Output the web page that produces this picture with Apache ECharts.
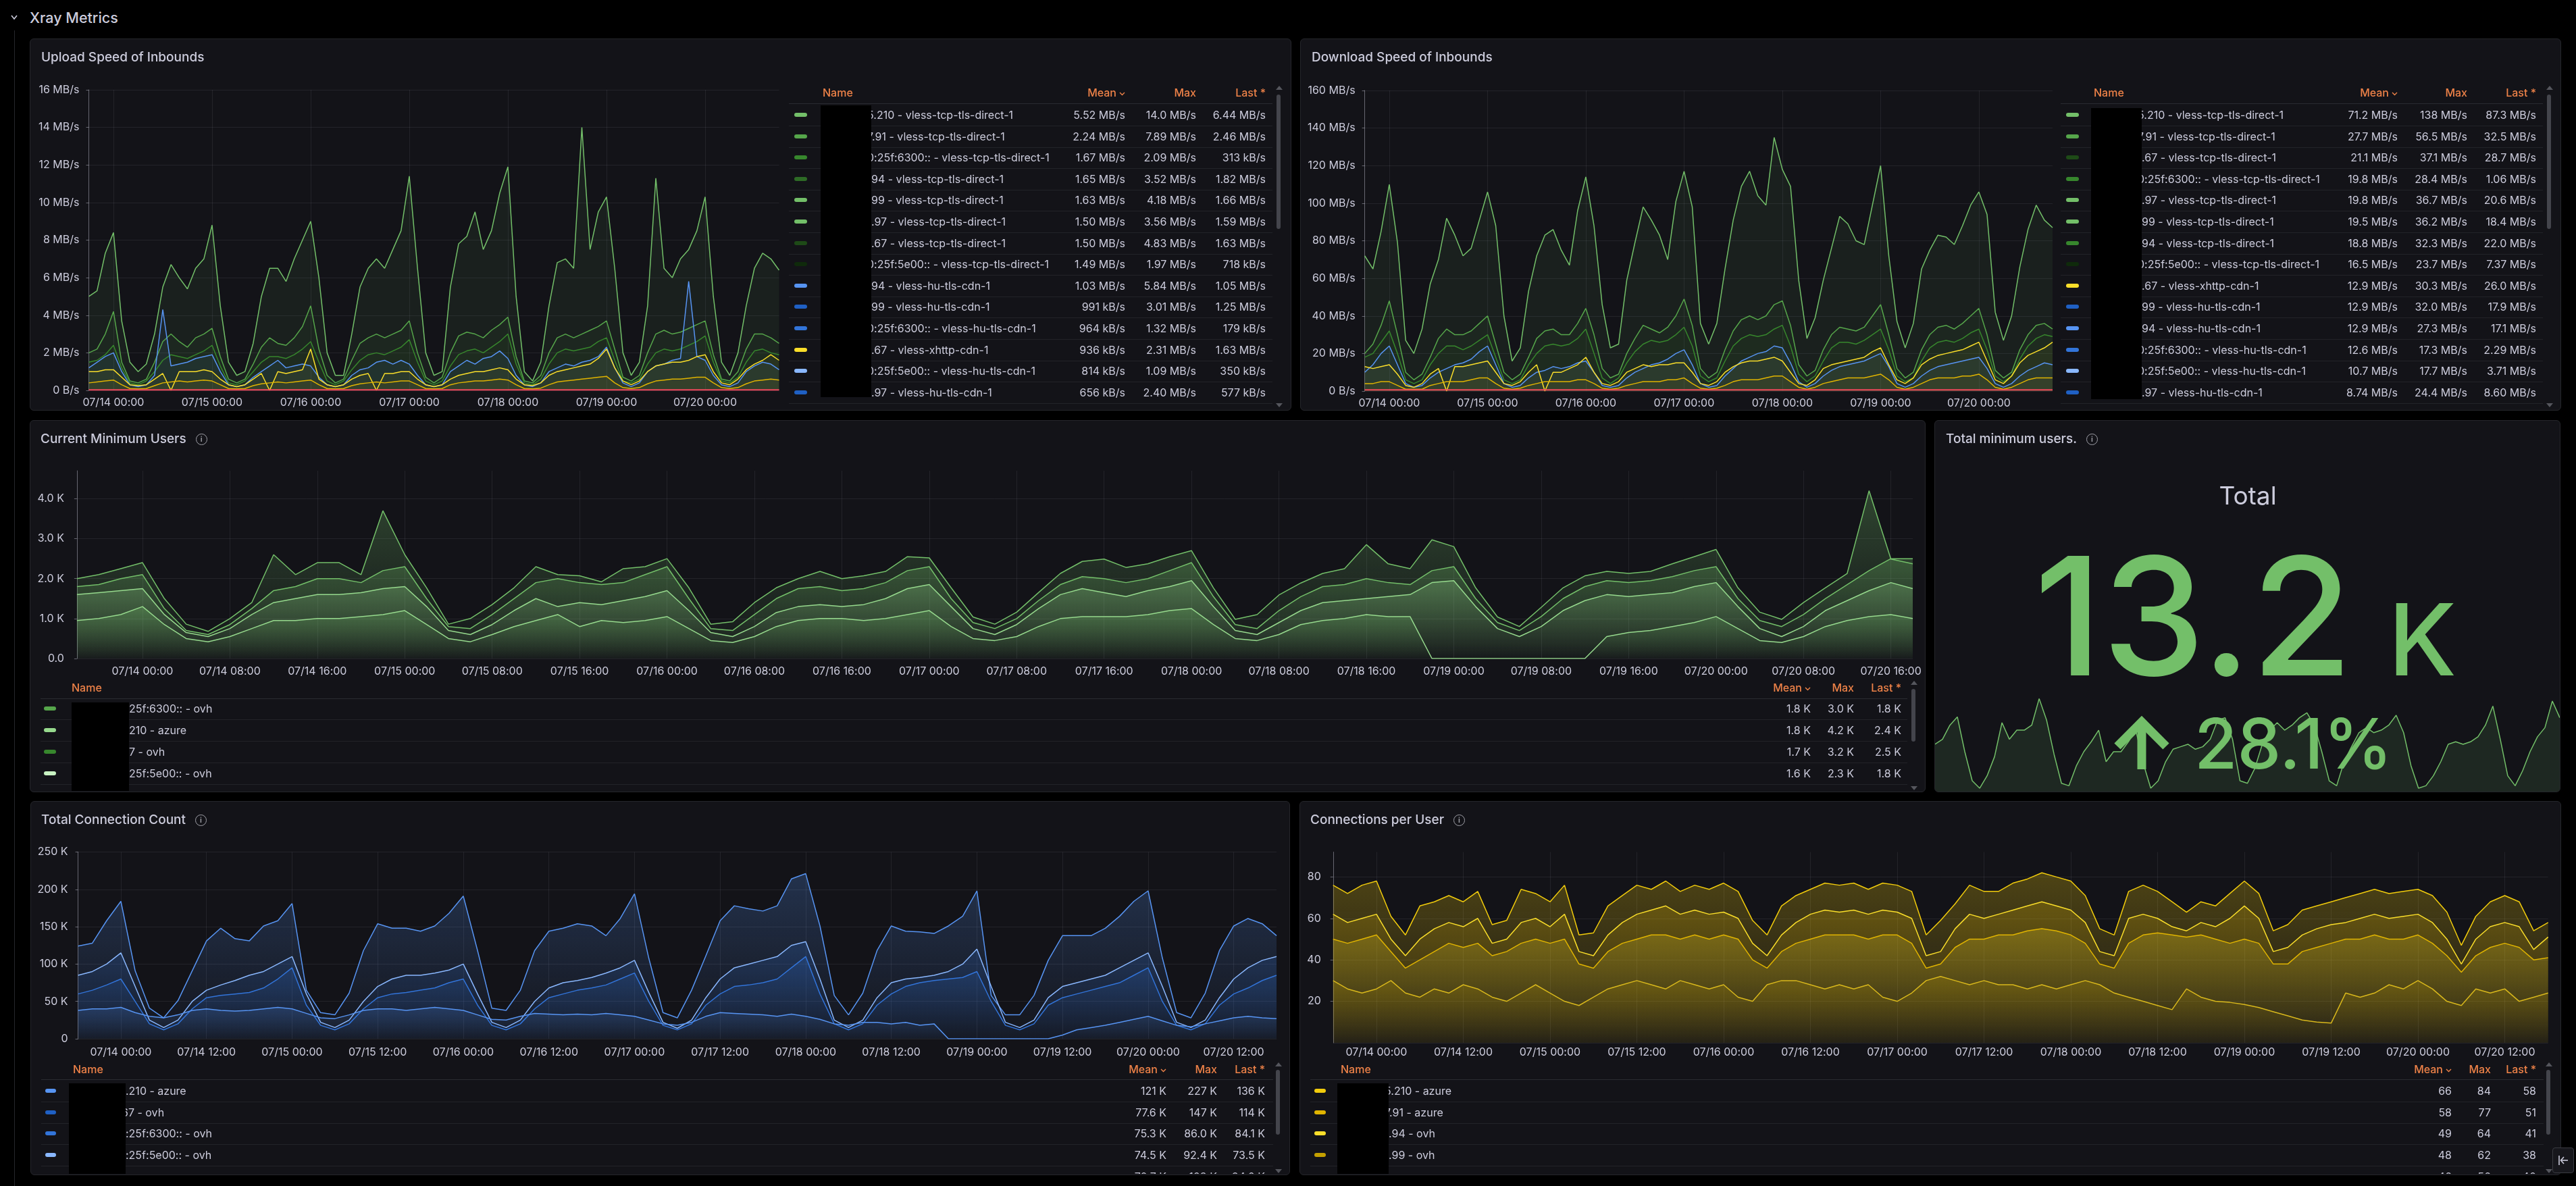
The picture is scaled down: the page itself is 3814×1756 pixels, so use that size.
<!DOCTYPE html>
<html>
<head>
<meta charset="utf-8">
<title>Xray Metrics</title>
<script src="https://cdn.jsdelivr.net/npm/echarts@6.0.0/dist/echarts.min.js"></script>
<style>
html,body{margin:0;padding:0;background:#000;}
body{position:relative;width:3814px;height:1756px;overflow:hidden;font-family:Inter,"Noto Sans",sans-serif;color:#ccccdc;font-feature-settings:"calt" 0,"liga" 0;font-variant-ligatures:none;}
.panel{position:absolute;box-sizing:border-box;background:#131318;border:1px solid #25262b;border-radius:6px;overflow:hidden;}
.ptitle{position:absolute;left:16px;top:14px;height:26px;line-height:26px;font-size:19px;font-weight:500;color:#ccccdc;white-space:nowrap;display:flex;align-items:center;z-index:3}
.info{display:inline-block;box-sizing:border-box;width:17px;height:17px;border:1.5px solid #a0a1a8;border-radius:50%;margin-left:14px;font-size:11px;line-height:14px;text-align:center;color:#a0a1a8;font-weight:600;}
.chart{position:absolute;left:0;top:0;z-index:1}
.lg{position:absolute;left:0;top:0;overflow:hidden;z-index:2}
.t{position:absolute;white-space:nowrap;font-size:16px;height:24px;line-height:24px;color:#ccccdc}
.h{color:#EE8248;font-weight:500}
</style>
</head>
<body>
<svg style="position:absolute;left:14px;top:20px" width="14" height="12"><polyline points="3,3 7,8 11,3" fill="none" stroke="#ccccdc" stroke-width="1.6"/></svg>
<div style="position:absolute;left:44px;top:13px;height:26px;line-height:26px;font-size:21.5px;font-weight:500;color:#ccccdc">Xray Metrics</div>
<div style="position:absolute;left:21px;top:45px;width:1px;height:1711px;background:#26272c"></div>

<div class="panel" id="pA" style="left:44px;top:57px;width:1868px;height:551px"><div class="ptitle">Upload Speed of Inbounds</div><div class="chart" id="cA"></div></div>
<div class="panel" id="pB" style="left:1925px;top:57px;width:1867px;height:551px"><div class="ptitle">Download Speed of Inbounds</div><div class="chart" id="cB"></div></div>
<div class="panel" id="pC" style="left:44px;top:622px;width:2807px;height:551px"><div class="ptitle" style="left:15px">Current Minimum Users<span class="info">i</span></div><div class="chart" id="cC"></div></div>
<div class="panel" id="pD" style="left:2864px;top:622px;width:927px;height:551px"><div class="ptitle">Total minimum users.<span class="info">i</span></div><div class="chart" id="cD"></div></div>
<div class="panel" id="pE" style="left:45px;top:1186px;width:1865px;height:554px"><div class="ptitle" style="left:15px">Total Connection Count<span class="info">i</span></div><div class="chart" id="cE"></div></div>
<div class="panel" id="pF" style="left:1924px;top:1186px;width:1868px;height:554px"><div class="ptitle" style="left:15px">Connections per User<span class="info">i</span></div><div class="chart" id="cF"></div></div>
<div style="position:absolute;left:3779px;top:1699px;width:32px;height:38px;box-sizing:border-box;border:1px solid #3a3b41;border-radius:4px;background:#17171c;z-index:5">
<svg width="30" height="36"><line x1="9" y1="11" x2="9" y2="25" stroke="#ccccdc" stroke-width="1.6"/><line x1="12" y1="18" x2="22" y2="18" stroke="#ccccdc" stroke-width="1.6"/><polyline points="16,13 11.5,18 16,23" fill="none" stroke="#ccccdc" stroke-width="1.6"/></svg>
</div>

<script>
// ---------- time grid (2 h steps, 07/13 18:00 -> 07/20 18:00) ----------
const START = new Date(2025, 6, 13, 18, 0, 0);
const STEP_H = 2, N = 85;
const pad = n => String(n).padStart(2, '0');
const times = [];
for (let i = 0; i < N; i++) {
  const d = new Date(START.getTime() + i * STEP_H * 3600e3);
  times.push(pad(d.getMonth() + 1) + '/' + pad(d.getDate()) + ' ' + pad(d.getHours()) + ':00');
}

// ---------- Upload speed (MB/s) ----------
const upS1 = [5.0,5.3,7.3,
 8.4,3.7,1.5,1.0,1.4,3.0,5.5,6.7,6.0,5.4,6.5,7.0,
 8.8,4.5,1.5,0.8,1.0,2.5,5.0,6.5,6.5,5.8,7.0,8.0,
 9.0,6.0,2.0,0.8,0.8,3.0,5.5,6.5,7.0,6.5,7.5,8.5,
 11.4,6.5,2.0,0.8,1.0,5.5,7.8,8.2,9.5,7.5,8.5,10.5,
 11.9,5.0,1.0,0.5,1.5,4.5,6.8,7.0,6.5,14.0,7.5,9.5,
 10.3,6.5,2.0,0.8,1.5,4.5,11.3,6.5,6.0,7.0,7.5,8.5,
 10.3,5.0,1.5,0.8,2.0,4.5,6.5,7.3,7.0,6.4];
const upS2 = [2.0,2.2,3.0,
 4.2,1.5,0.5,0.4,0.6,1.5,2.6,3.0,2.6,2.3,2.8,3.0,
 3.3,1.8,0.6,0.4,0.6,1.4,2.3,2.8,2.5,2.4,2.8,3.4,
 4.5,2.2,0.8,0.4,0.6,1.6,2.5,2.8,3.0,2.8,3.0,3.2,
 3.7,2.0,0.7,0.4,0.7,2.0,2.9,3.1,3.0,2.8,3.2,3.5,
 3.9,1.8,0.5,0.4,0.8,2.0,2.8,3.0,2.8,3.0,3.2,3.4,
 3.7,2.2,0.7,0.5,0.8,2.0,3.0,3.2,3.0,3.1,3.3,3.5,
 3.7,1.9,0.6,0.5,1.0,2.2,3.0,3.0,2.8,2.5];
const upS3 = [1.5,1.6,1.9,
 2.4,1.2,0.4,0.3,0.5,1.0,1.6,1.9,1.8,1.7,1.9,2.1,
 2.4,1.3,0.4,0.3,0.5,1.0,1.5,1.8,1.8,1.7,1.9,2.2,
 2.6,1.5,0.5,0.3,0.5,1.1,1.6,1.9,2.0,1.9,2.1,2.3,
 2.7,1.5,0.5,0.3,0.5,1.3,1.9,2.1,2.2,2.0,2.3,2.6,
 3.0,1.4,0.4,0.3,0.6,1.4,2.0,2.2,2.1,2.2,2.3,2.6,
 2.8,1.6,0.5,0.4,0.6,1.4,2.0,2.2,2.1,2.2,2.4,2.6,
 2.9,1.5,0.5,0.4,0.7,1.5,2.1,2.2,2.0,1.9];
const upS4 = [1.2,1.5,1.8,
 2.0,1.0,0.3,0.2,0.3,0.8,4.3,1.3,1.4,1.5,1.7,1.8,
 1.9,1.0,0.3,0.2,0.3,0.7,1.0,1.3,1.6,1.2,1.3,1.4,
 1.3,0.7,0.3,0.2,0.3,0.8,1.1,1.2,1.5,1.6,1.4,1.6,
 1.4,0.8,0.3,0.2,0.3,1.0,1.3,1.6,1.4,1.7,1.8,2.1,
 1.7,0.8,0.3,0.2,0.4,1.0,1.2,1.4,1.3,1.5,1.6,1.8,
 2.3,1.2,0.4,0.2,0.4,1.0,1.3,1.4,1.6,1.7,5.8,1.8,
 1.6,0.8,0.3,0.2,0.4,1.0,1.3,1.5,1.4,1.1];
const upS5 = [1.0,1.0,1.1,
 1.1,0.7,0.3,0.25,0.3,0.6,0.9,0.0,1.0,1.0,1.0,1.1,
 1.0,0.6,0.3,0.2,0.3,0.6,0.9,0.0,1.0,0.9,1.0,1.1,
 2.2,0.6,0.3,0.2,0.3,0.6,0.8,0.9,0.0,0.9,0.9,1.0,
 1.0,0.6,0.3,0.2,0.3,0.6,0.8,0.9,1.0,1.0,1.1,1.2,
 1.1,0.6,0.3,0.25,0.4,0.8,1.0,1.1,1.2,1.3,1.4,1.7,
 2.2,1.2,0.5,0.3,0.5,1.0,1.3,1.4,1.5,1.5,1.6,1.8,
 1.9,1.0,0.4,0.3,0.6,1.1,1.4,1.6,1.9,1.6];
const upS6 = [0.4,0.45,0.5,
 0.55,0.3,0.1,0.08,0.1,0.25,0.4,0.45,0.5,0.45,0.5,0.55,
 0.5,0.3,0.1,0.08,0.1,0.25,0.35,0.4,0.45,0.4,0.45,0.5,
 0.55,0.3,0.1,0.08,0.1,0.25,0.35,0.4,0.45,0.4,0.45,0.5,
 0.5,0.3,0.1,0.08,0.1,0.3,0.4,0.45,0.5,0.5,0.55,0.6,
 0.55,0.3,0.1,0.08,0.12,0.3,0.45,0.5,0.55,0.6,0.65,0.7,
 0.75,0.4,0.15,0.1,0.15,0.35,0.5,0.55,0.6,0.6,0.65,0.7,
 0.7,0.4,0.15,0.1,0.15,0.35,0.5,0.55,0.6,0.55];
const upFloor = [[0, 0.03], [84, 0.03]];

// ---------- Download speed (MB/s) ----------
const dnS1 = [72,65,85,
 110,79,27,20,33,57,70,92,83,72,76,91,
 106,88,40,16,23,53,72,83,86,75,67,96,
 114,88,46,23,25,59,79,98,91,83,70,101,
 117,98,36,25,36,65,91,109,117,104,99,135,
 118,109,59,28,39,59,76,93,89,80,78,99,
 120,72,37,23,36,65,75,83,82,78,88,99,
 106,94,42,27,40,66,86,99,91,87];
const dnS2 = [20,25,35,
 48,30,10,6,9,18,28,33,30,30,32,36,
 40,25,10,6,9,18,28,32,33,30,30,36,
 44,30,12,7,9,20,28,35,33,31,34,40,
 49,35,12,7,10,22,32,38,40,38,40,46,
 48,35,14,8,11,22,30,34,33,32,34,40,
 46,30,12,7,10,22,30,34,35,33,36,40,
 44,30,11,7,10,22,30,35,36,33];
const dnS3 = [18,20,26,
 32,20,6,4,6,14,20,24,24,22,24,27,
 30,18,6,4,6,14,20,24,25,24,25,28,
 33,20,7,4,7,15,21,25,27,26,27,30,
 34,24,8,5,7,16,24,28,30,29,30,33,
 35,24,9,5,8,16,23,26,26,25,27,30,
 33,22,8,5,7,16,23,26,27,26,28,31,
 33,22,8,5,8,17,24,28,30,29];
const dnS4 = [10,14,20,
 24,14,4,2,3,7,10,12,14,15,17,21,
 24,14,4,2,3,7,10,11,13,12,13,15,
 16,10,3,2,3,7,10,12,14,15,17,20,
 22,14,4,2,3,8,12,16,18,20,21,24,
 23,15,5,2,4,8,11,13,14,15,16,18,
 20,13,4,2,4,8,11,13,14,15,16,17,
 18,12,4,2,4,8,11,13,15,14];
const dnS5 = [13,12,13,
 14,9,3,2,4,9,12,0,13,13,14,15,
 16,10,4,3,5,10,14,0,10,10,12,14,
 18,10,4,3,5,10,12,14,13,14,14,15,
 15,10,4,3,5,10,13,15,16,16,17,18,
 16,10,4,3,6,12,14,15,16,17,18,21,
 23,14,6,4,7,14,17,19,20,21,22,24,
 26,16,6,4,8,15,19,21,23,26];
const dnS6 = [4,4,5,
 5,3,1,1,1,3,4,5,5,5,6,7,
 7,4,1.5,1,1.5,3,4,5,5,5,5,6,
 6,4,1.5,1,1.5,3,4,5,5,5,6,6,
 7,4,1.5,1,1.5,3,5,6,6,6,7,8,
 8,5,2,1,2,4,5,6,7,7,7,8,
 9,6,2,1,2,4,6,7,7,7,8,8,
 9,6,2,1,2,4,6,7,7,7];
const dnFloor = [[0, 0.6], [84, 0.6]];

// ---------- Current minimum users (K) ----------
const usU1 = [2.0,2.1,2.25,
 2.4,1.5,0.86,0.68,1.0,1.4,2.6,2.1,2.4,2.4,2.1,3.7,
 2.6,1.77,0.86,1.0,1.35,1.77,2.3,2.1,2.07,1.92,2.25,2.3,
 2.5,1.77,0.86,0.92,1.4,1.77,2.0,2.18,2.0,2.07,2.18,2.55,
 2.52,1.77,1.04,0.86,1.16,1.65,2.13,2.43,2.49,2.28,2.37,2.55,
 2.7,1.77,0.98,1.1,1.59,1.89,2.13,2.25,2.85,2.37,2.25,2.97,
 2.8,1.77,1.04,0.8,1.28,1.77,2.07,2.18,2.13,2.18,2.37,2.55,
 2.73,1.77,1.16,0.98,1.4,1.77,2.13,4.2,2.49,2.37];
const usU4 = [1.8,1.85,2.0,
 2.1,1.25,0.7,0.6,0.85,1.25,1.7,1.8,2.0,2.0,1.9,2.2,
 2.3,1.5,0.8,0.75,1.1,1.5,1.9,2.0,1.9,1.85,1.9,2.1,
 2.3,1.5,0.75,0.7,1.1,1.5,1.75,1.8,1.7,1.75,1.9,2.2,
 2.3,1.5,0.9,0.75,1.0,1.45,1.85,2.05,2.0,1.9,2.0,2.2,
 2.4,1.55,0.85,0.75,1.2,1.55,1.8,1.85,2.0,1.9,1.85,2.2,
 2.3,1.5,0.9,0.7,1.05,1.5,1.8,1.95,1.9,1.95,2.05,2.2,
 2.3,1.5,0.95,0.8,1.1,1.5,1.85,2.2,2.5,2.5];
const usU2 = [1.6,1.65,1.7,
 1.75,1.1,0.65,0.55,0.75,1.1,1.4,1.5,1.6,1.6,1.65,1.75,
 1.8,1.3,0.7,0.6,0.85,1.2,1.5,1.3,1.4,1.35,1.45,1.55,
 1.7,1.2,0.65,0.55,0.8,1.15,1.3,1.35,1.3,1.35,1.5,1.75,
 1.85,1.3,0.75,0.6,0.85,1.25,1.6,1.75,1.65,1.55,1.7,1.8,
 1.95,1.3,0.7,0.6,0.9,1.2,1.4,1.45,1.5,1.55,1.6,1.9,
 1.95,1.3,0.75,0.55,0.8,1.2,1.45,1.6,1.55,1.6,1.65,1.8,
 1.9,1.3,0.75,0.55,0.8,1.2,1.45,1.7,1.9,1.75];
const usU3 = [0.95,1.0,1.1,
 1.3,0.85,0.5,0.42,0.55,0.75,0.95,0.95,1.0,1.0,1.05,1.1,
 1.2,0.85,0.5,0.42,0.6,0.8,0.95,1.1,0.8,0.95,0.9,0.95,
 1.05,0.75,0.45,0.4,0.55,0.8,0.95,1.0,1.0,0.95,1.0,1.1,
 1.2,0.8,0.5,0.45,0.55,0.8,1.0,1.05,1.05,1.05,1.1,1.2,
 1.25,0.85,0.5,0.45,0.6,0.85,0.95,1.0,1.1,1.05,1.05,0,
 0,0,0,0,0,0,0,0.55,0.65,0.7,0.8,0.9,
 1.05,0.75,0.45,0.4,0.55,0.8,0.95,1.05,1.1,1.0];

// ---------- Total minimum users sparkline (K) ----------
const statTotal = [9.7,10.3,12.0,
 13.0,8.8,5.3,4.4,5.9,8.2,12.3,10.3,11.4,11.4,12.0,15.2,
 12.6,8.5,5.0,4.7,7.1,8.8,10.0,11.4,7.6,8.8,8.8,10.0,
 11.4,7.4,4.4,5.3,7.6,9.1,9.4,9.7,9.1,9.4,10.3,12.6,
 12.9,10.3,5.3,5.0,6.8,9.7,11.4,12.3,11.4,12.0,12.9,13.5,
 12.0,8.8,5.3,4.7,7.6,9.4,11.1,11.7,11.1,11.4,12.0,13.2,
 11.1,7.1,4.4,4.7,5.9,7.6,9.7,10.0,9.7,10.0,10.6,12.0,
 14.3,10.3,5.9,4.7,6.5,8.8,10.6,11.7,14.9,12.9];
const statTitle = 'Total', statValue = '13.2', statUnit = 'K', statChange = '28.1%';

// ---------- Total connection count (K) ----------
const cnC1 = [124,128,158,
 184,91,41,28,51,91,131,148,134,131,151,158,
 181,65,35,32,61,118,154,148,148,144,151,168,
 191,118,41,38,65,118,144,148,154,151,138,161,
 194,108,35,28,65,111,158,178,174,171,178,214,
 221,151,58,32,61,118,151,144,143,141,151,164,
 198,58,32,32,58,105,138,138,138,148,164,184,
 198,108,35,28,61,118,151,161,154,138];
const cnC2 = [85,90,100,
 115,70,25,15,25,50,65,72,78,85,90,100,
 110,60,22,15,25,50,70,80,85,85,88,92,
 100,60,22,15,25,50,68,75,78,82,88,95,
 105,62,22,14,25,55,80,95,100,105,110,125,
 130,80,25,15,25,55,75,80,82,85,90,100,
 120,70,22,15,25,55,70,75,80,85,95,105,
 115,70,22,15,25,55,80,95,105,110];
const cnC3 = [60,65,72,
 80,50,20,12,20,40,55,58,60,62,68,80,
 95,45,18,12,20,40,55,60,62,65,68,75,
 80,45,18,12,20,40,55,60,65,68,72,80,
 88,50,18,12,20,45,60,70,72,75,80,95,
 110,60,20,12,20,45,60,70,75,78,80,82,
 90,50,18,12,20,45,55,60,65,70,75,85,
 95,50,18,12,20,45,60,68,78,85];
const cnC4 = [38,40,40,
 42,35,30,28,32,38,40,38,37,38,40,42,
 40,34,28,27,32,38,40,40,38,40,42,40,
 38,32,26,25,30,34,33,32,33,32,34,32,
 30,25,20,18,22,30,35,34,33,32,30,33,
 30,26,20,18,22,22,20,22,18,20,0,0,
 0,0,0,0,0,0,5,12,15,18,22,26,
 30,24,18,16,20,24,28,30,28,27];

// ---------- Connections per user ----------
const cuP1 = [76,72,76,
 78,61,52,66,68,71,68,73,57,59,74,72,
 68,76,52,53,66,71,76,74,78,73,76,74,
 77,73,59,52,66,71,74,77,76,77,74,77,
 76,73,52,59,67,76,73,73,77,79,82,80,
 78,71,55,52,73,76,73,68,63,68,66,72,
 78,72,54,57,64,66,68,70,72,74,72,73,
 74,71,63,47,61,68,71,68,54,58];
const cuP2 = [62,58,60,
 62,50,42,50,55,58,56,60,48,50,58,60,
 56,62,44,42,52,58,62,64,66,62,64,62,
 63,60,48,42,52,58,62,64,63,64,62,64,
 63,60,42,44,55,62,60,62,64,66,68,66,
 64,58,44,42,60,62,60,56,54,58,56,60,
 66,60,44,46,52,55,57,58,60,62,60,61,
 62,58,50,38,50,56,58,56,45,51];
const cuP3 = [50,48,50,
 52,44,36,40,44,48,46,48,42,44,48,50,
 48,50,38,36,44,48,50,52,52,50,52,50,
 52,50,40,36,44,48,50,52,52,52,50,52,
 52,48,36,38,46,50,50,52,52,54,55,54,
 52,48,38,36,48,52,53,52,51,52,50,48,
 50,48,38,38,44,46,48,50,50,52,50,50,
 52,48,42,34,42,46,48,46,40,41];
const cuP4 = [30,26,24,
 26,30,24,22,26,24,28,26,22,20,24,28,
 24,20,18,22,26,28,30,28,26,30,28,26,
 28,22,20,28,30,30,28,26,28,26,28,22,
 20,24,30,32,30,28,30,28,28,26,28,26,
 28,30,28,24,22,20,18,16,26,22,20,19.5,
 18.5,17,15,13,11,10,9.5,24,22,24,28,26,
 30,26,20,18,26,24,26,20,22,24];

// ---------- Legend tables ----------
const upNames=['5.210 - vless-tcp-tls-direct-1','7.91 - vless-tcp-tls-direct-1','0:25f:6300:: - vless-tcp-tls-direct-1','94 - vless-tcp-tls-direct-1','99 - vless-tcp-tls-direct-1','.97 - vless-tcp-tls-direct-1','.67 - vless-tcp-tls-direct-1','0:25f:5e00:: - vless-tcp-tls-direct-1','94 - vless-hu-tls-cdn-1','99 - vless-hu-tls-cdn-1','0:25f:6300:: - vless-hu-tls-cdn-1','.67 - vless-xhttp-cdn-1','0:25f:5e00:: - vless-hu-tls-cdn-1','.97 - vless-hu-tls-cdn-1'];
const upCut=[1,1,1,0,0,0,0,1,0,0,1,0,1,0];
const upMean=['5.52 MB/s','2.24 MB/s','1.67 MB/s','1.65 MB/s','1.63 MB/s','1.50 MB/s','1.50 MB/s','1.49 MB/s','1.03 MB/s','991 kB/s','964 kB/s','936 kB/s','814 kB/s','656 kB/s'];
const upMax=['14.0 MB/s','7.89 MB/s','2.09 MB/s','3.52 MB/s','4.18 MB/s','3.56 MB/s','4.83 MB/s','1.97 MB/s','5.84 MB/s','3.01 MB/s','1.32 MB/s','2.31 MB/s','1.09 MB/s','2.40 MB/s'];
const upLast=['6.44 MB/s','2.46 MB/s','313 kB/s','1.82 MB/s','1.66 MB/s','1.59 MB/s','1.63 MB/s','718 kB/s','1.05 MB/s','1.25 MB/s','179 kB/s','1.63 MB/s','350 kB/s','577 kB/s'];
const upColors=['#73BF69','#56A64B','#37872D','#2E6B26','#73BF69','#73BF69','#1E4A17','#0F2A0B','#5794F2','#1F60C4','#3274D9','#FADE2A','#8AB8FF','#1F60C4'];

const dnNames=['5.210 - vless-tcp-tls-direct-1','7.91 - vless-tcp-tls-direct-1','.67 - vless-tcp-tls-direct-1','0:25f:6300:: - vless-tcp-tls-direct-1','.97 - vless-tcp-tls-direct-1','99 - vless-tcp-tls-direct-1','94 - vless-tcp-tls-direct-1','0:25f:5e00:: - vless-tcp-tls-direct-1','.67 - vless-xhttp-cdn-1','99 - vless-hu-tls-cdn-1','94 - vless-hu-tls-cdn-1','0:25f:6300:: - vless-hu-tls-cdn-1','0:25f:5e00:: - vless-hu-tls-cdn-1','.97 - vless-hu-tls-cdn-1'];
const dnCut=[1,1,0,1,0,0,0,1,0,0,0,1,1,0];
const dnMean=['71.2 MB/s','27.7 MB/s','21.1 MB/s','19.8 MB/s','19.8 MB/s','19.5 MB/s','18.8 MB/s','16.5 MB/s','12.9 MB/s','12.9 MB/s','12.9 MB/s','12.6 MB/s','10.7 MB/s','8.74 MB/s'];
const dnMax=['138 MB/s','56.5 MB/s','37.1 MB/s','28.4 MB/s','36.7 MB/s','36.2 MB/s','32.3 MB/s','23.7 MB/s','30.3 MB/s','32.0 MB/s','27.3 MB/s','17.3 MB/s','17.7 MB/s','24.4 MB/s'];
const dnLast=['87.3 MB/s','32.5 MB/s','28.7 MB/s','1.06 MB/s','20.6 MB/s','18.4 MB/s','22.0 MB/s','7.37 MB/s','26.0 MB/s','17.9 MB/s','17.1 MB/s','2.29 MB/s','3.71 MB/s','8.60 MB/s'];
const dnColors=['#73BF69','#56A64B','#1E4A17','#37872D','#73BF69','#73BF69','#37872D','#0F2A0B','#FADE2A','#1F60C4','#5794F2','#3274D9','#8AB8FF','#1F60C4'];

const usNames=['25f:6300:: - ovh','210 - azure','7 - ovh','25f:5e00:: - ovh',''];
const usCut=[0,0,0,0,0];
const usMean=['1.8 K','1.8 K','1.7 K','1.6 K','1.5 K'];
const usMax=['3.0 K','4.2 K','3.2 K','2.3 K','2.0 K'];
const usLast=['1.8 K','2.4 K','2.5 K','1.8 K','2.4 K'];
const usColors=['#56A64B','#96D98D','#37872D','#C8F2C2','#73BF69'];

const cnNames=['.210 - azure','67 - ovh',':25f:6300:: - ovh',':25f:5e00:: - ovh',''];
const cnCut=[0,1,0,0,0];
const cnMean=['121 K','77.6 K','75.3 K','74.5 K','70.7 K'];
const cnMax=['227 K','147 K','86.0 K','92.4 K','103 K'];
const cnLast=['136 K','114 K','84.1 K','73.5 K','84.0 K'];
const cnColors=['#5794F2','#1F60C4','#3274D9','#8AB8FF','#5794F2'];

const cuNames=['5.210 - azure','7.91 - azure','.94 - ovh','.99 - ovh',''];
const cuCut=[1,1,0,0,0];
const cuMean=['66','58','49','48','46'];
const cuMax=['84','77','64','62','56'];
const cuLast=['58','51','41','38','40'];
const cuColors=['#F2CC0C','#E0B400','#FADE2A','#C4A000','#FFEE52'];

// ---------- helpers ----------
const GRID='rgba(204,204,220,0.09)', AXIS='rgba(204,204,220,0.45)', TXT='#ccccdc';
const P = {A:[44,57,1868,551], B:[1925,57,1867,551], C:[44,622,2807,551], D:[2864,622,927,551], E:[45,1186,1865,554], F:[1924,1186,1868,554]};
function geo(p,x0,y0,x1,y1){const [l,t,w,h]=P[p];const il=l+1,it=t+1,iw=w-2,ih=h-2;return {w:iw,h:ih,grid:[x0-il,y0-it,il+iw-x1,it+ih-y1]};}
function rgba(hex,a){const n=parseInt(hex.slice(1),16);return 'rgba('+(n>>16)+','+((n>>8)&255)+','+(n&255)+','+a+')';}
function flat(hex,a){return {color:rgba(hex,a)};}
function grad(hex,a0,a1){return {color:new echarts.graphic.LinearGradient(0,0,0,1,[{offset:0,color:rgba(hex,a0)},{offset:1,color:rgba(hex,a1)}])};}
function ser(name,data,color,area,w){return {type:'line',name,data,symbol:'none',showSymbol:false,silent:true,lineStyle:{color,width:w||1.5},itemStyle:{color},areaStyle:area,emphasis:{disabled:true}};}
const hourOf=v=>v.slice(6,8);
const dayTick=v=>hourOf(v)==='00';
const h8Tick=v=>['00','08','16'].includes(hourOf(v));
const h12Tick=v=>['00','12'].includes(hourOf(v));

function tsChart(id,G,o){
  const ch=echarts.init(document.getElementById(id),null,{width:G.w,height:G.h});
  ch.setOption({
    animation:false, backgroundColor:'transparent', textStyle:{fontFamily:'Inter'},
    grid:{left:G.grid[0],top:G.grid[1],right:G.grid[2],bottom:G.grid[3]},
    xAxis:{type:'category',data:times,boundaryGap:false,axisLine:{show:false},axisTick:{show:false},
      axisLabel:{interval:(i,v)=>o.tick(v),color:TXT,fontSize:16,margin:o.xm,fontFamily:'Inter'},
      splitLine:{show:true,interval:(i,v)=>o.tick(v),lineStyle:{color:GRID,width:1}}},
    yAxis:{type:'value',min:0,max:o.max,interval:o.iv,
      axisLine:{show:true,lineStyle:{color:AXIS,width:1}},axisTick:{show:true,length:4,lineStyle:{color:AXIS}},
      axisLabel:{color:TXT,fontSize:16,margin:o.ym,formatter:o.fmt,showMaxLabel:o.showMax!==false,showMinLabel:o.showMin!==false,fontFamily:'Inter'},
      splitLine:{show:true,lineStyle:{color:GRID,width:1},showMaxLine:o.showMax!==false}},
    series:o.series
  });
}

function legend(pid,L,names,cut,means,maxs,lasts,colors){
  const p=document.getElementById(pid);
  const W=p.clientWidth;
  const d=document.createElement('div'); d.className='lg';
  d.style.width=W+'px'; d.style.height=(L.clip-1)+'px';
  const T=(x,cy,s,align,cls)=>{const top=cy-1-12;
    if(align==='r') return '<div class="t '+(cls||'')+'" style="top:'+top+'px;right:'+(W-(x-1))+'px;text-align:right">'+s+'</div>';
    return '<div class="t '+(cls||'')+'" style="top:'+top+'px;left:'+(x-1)+'px">'+s+'</div>';};
  const box=(x,y,w,h,c,extra)=>'<div style="position:absolute;left:'+(x-1)+'px;top:'+(y-1)+'px;width:'+w+'px;height:'+h+'px;background:'+c+';'+(extra||'')+'"></div>';
  let h='';
  const chev='<svg width="9" height="6" style="margin-left:4px;vertical-align:middle"><polyline points="1,1 4.5,4.5 8,1" fill="none" stroke="#EE8248" stroke-width="1.4"/></svg>';
  h+=T(L.nameHdr,L.hdrY,'Name','l','h');
  h+=T(L.cols[0],L.hdrY,'Mean'+chev,'r','h');
  h+=T(L.cols[1],L.hdrY,'Max','r','h');
  h+=T(L.cols[2],L.hdrY,'Last *','r','h');
  h+=box(L.lx1,L.lineY,L.lx2-L.lx1,1,'#2a2b31');
  for(let i=0;i<names.length;i++){
    const cy=Math.round(L.row0+i*L.rowH);
    h+=box(L.swX,cy-3,L.swW,6,colors[i],'border-radius:3px');
    if(names[i]) h+=T(L.nameX-(cut[i]?6:0),cy,names[i],'l');
    h+=T(L.cols[0],cy,means[i],'r');
    h+=T(L.cols[1],cy,maxs[i],'r');
    h+=T(L.cols[2],cy,lasts[i],'r');
    h+=box(L.lx1,Math.round(cy+L.rowH/2),L.lx2-L.lx1,1,'#222328');
  }
  h+=box(L.boxX,L.boxTop,L.boxW,L.boxBot-L.boxTop,'#000');
  h+='<svg style="position:absolute;left:'+(L.sbX-5)+'px;top:'+(L.sbTop-6)+'px" width="14" height="10"><polygon points="2,8 7,2 12,8" fill="#55565d"/></svg>';
  h+='<svg style="position:absolute;left:'+(L.sbX-5)+'px;top:'+(L.sbBot-4)+'px" width="14" height="10"><polygon points="2,2 7,8 12,2" fill="#55565d"/></svg>';
  h+=box(L.sbX-1,L.thumbTop,6,L.thumbH,'#44454c','border-radius:3px');
  d.innerHTML=h; p.appendChild(d);
}

// ---------- Upload ----------
const gA=geo('A',131.5,133,1153.5,578);
tsChart('cA',gA,{tick:dayTick,xm:10,ym:14,max:16,iv:2,fmt:v=>v===0?'0 B/s':v+' MB/s',series:[
  ser('5.210 - vless-tcp-tls-direct-1',upS1,'#73BF69',flat('#73BF69',0.11)),
  ser('7.91 - vless-tcp-tls-direct-1',upS2,'#56A64B',flat('#56A64B',0.08)),
  ser('94 - vless-tcp-tls-direct-1',upS3,'#37872D',flat('#37872D',0.08)),
  ser('94 - vless-hu-tls-cdn-1',upS4,'#5794F2',flat('#5794F2',0.1)),
  ser('.67 - vless-xhttp-cdn-1',upS5,'#FADE2A',flat('#FADE2A',0.06)),
  ser('99 - vless-hu-tls-cdn-1',upS6,'#E0B400',flat('#E0B400',0.08)),
  ser('floor',upFloor,'#F2495C',null,2)
]});
legend('pA',{nameHdr:1174,hdrY:80,lineY:96,lx1:1124,lx2:1840,swX:1132,swW:19,boxX:1171,boxW:75,boxTop:99,boxBot:531,nameX:1246,row0:113,rowH:31.6,cols:[1622,1727,1830],sbX:1847,sbTop:73,sbBot:541,thumbTop:83,thumbH:199,clip:548},upNames,upCut,upMean,upMax,upLast,upColors);

// ---------- Download ----------
const gB=geo('B',2020.6,134,3039,579);
tsChart('cB',gB,{tick:dayTick,xm:10,ym:14,max:160,iv:20,fmt:v=>v===0?'0 B/s':v+' MB/s',series:[
  ser('5.210 - vless-tcp-tls-direct-1',dnS1,'#73BF69',flat('#73BF69',0.11)),
  ser('7.91 - vless-tcp-tls-direct-1',dnS2,'#56A64B',flat('#56A64B',0.08)),
  ser('.67 - vless-tcp-tls-direct-1',dnS3,'#37872D',flat('#37872D',0.08)),
  ser('94 - vless-hu-tls-cdn-1',dnS4,'#5794F2',flat('#5794F2',0.1)),
  ser('.67 - vless-xhttp-cdn-1',dnS5,'#FADE2A',flat('#FADE2A',0.06)),
  ser('other',dnS6,'#E0B400',flat('#E0B400',0.08)),
  ser('floor',dnFloor,'#F2495C',null,2)
]});
legend('pB',{nameHdr:1175,hdrY:80,lineY:96,lx1:1126,lx2:1840,swX:1134,swW:19,boxX:1171,boxW:75,boxTop:103,boxBot:534,nameX:1246,row0:113,rowH:31.6,cols:[1625,1728,1830],sbX:1847,sbTop:73,sbBot:541,thumbTop:83,thumbH:199,clip:548},dnNames,dnCut,dnMean,dnMax,dnLast,dnColors);

// ---------- Users ----------
const gC=geo('C',113.9,697,2832,975);
tsChart('cC',gC,{tick:h8Tick,xm:11,ym:19,max:4.7,iv:1,showMax:false,fmt:v=>v===0?'0.0':v.toFixed(1)+' K',series:[
  ser('210 - azure',usU1,'#73BF69',grad('#73BF69',0.42,0.02)),
  ser('7 - ovh',usU4,'#73BF69',grad('#73BF69',0.4,0.02)),
  ser('25f:5e00:: - ovh',usU2,'#96D98D',grad('#96D98D',0.38,0.02)),
  ser('25f:6300:: - ovh',usU3,'#96D98D',grad('#73BF69',0.4,0.02))
]});
legend('pC',{nameHdr:62,hdrY:396,lineY:412,lx1:16,lx2:2780,swX:21,swW:18,boxX:62,boxW:85,boxTop:418,boxBot:551,nameX:147,row0:427,rowH:32,cols:[2637,2701,2771],sbX:2787,sbTop:389,sbBot:543,thumbTop:398,thumbH:78,clip:549},usNames,usCut,usMean,usMax,usLast,usColors);

// ---------- Stat ----------
const gD=geo('D',2865,1027,3790,1172);
(function(){
  const ch=echarts.init(document.getElementById('cD'),null,{width:gD.w,height:gD.h});
  ch.setOption({animation:false,backgroundColor:'transparent',
    grid:{left:gD.grid[0],top:gD.grid[1],right:gD.grid[2],bottom:gD.grid[3]},
    xAxis:{type:'category',data:times,boundaryGap:false,show:false},
    yAxis:{type:'value',min:4.0,max:15.8,show:false},
    series:[ser('Total',statTotal,'#73BF69',flat('#73BF69',0.18),1.5)]});
  const svgNS='http://www.w3.org/2000/svg';
  const s=document.createElementNS(svgNS,'svg');
  s.setAttribute('width',gD.w); s.setAttribute('height',gD.h);
  s.style.cssText='position:absolute;left:0;top:0;z-index:2';
  s.innerHTML=
   '<text x="463" y="124" text-anchor="middle" font-size="37" fill="#ccccdc" font-family="Inter">'+statTitle+'</text>'+
   '<text x="618" y="377" text-anchor="end" font-size="243" font-weight="500" fill="#73BF69" font-family="Inter">'+statValue+'</text>'+
   '<text x="671" y="377" font-size="147" font-weight="500" fill="#73BF69" font-family="Inter">'+statUnit+'</text>'+
   '<polyline points="270,482 306,446 342,482" fill="none" stroke="#73BF69" stroke-width="13"/>'+
   '<line x1="306" y1="448" x2="306" y2="516" stroke="#73BF69" stroke-width="13"/>'+
   '<text x="384" y="515" font-size="103" font-weight="500" fill="#73BF69" font-family="Inter">'+statChange+'</text>';
  document.getElementById('pD').appendChild(s);
})();

// ---------- Connections ----------
const gE=geo('E',115.6,1261.5,1890,1538);
tsChart('cE',gE,{tick:h12Tick,xm:12,ym:15,max:250,iv:50,fmt:v=>v===0?'0':v+' K',series:[
  ser('.210 - azure',cnC1,'#5794F2',grad('#5794F2',0.35,0.03)),
  ser('67 - ovh',cnC2,'#8AB8FF',grad('#3274D9',0.3,0.03)),
  ser(':25f:6300:: - ovh',cnC3,'#3274D9',grad('#3274D9',0.3,0.03)),
  ser(':25f:5e00:: - ovh',cnC4,'#5794F2',grad('#5794F2',0.25,0.03))
]});
legend('pE',{nameHdr:63,hdrY:397,lineY:412,lx1:16,lx2:1840,swX:22,swW:16,boxX:57,boxW:84,boxTop:418,boxBot:554,nameX:141,row0:429,rowH:31.7,cols:[1682,1757,1828],sbX:1845,sbTop:390,sbBot:546,thumbTop:398,thumbH:96,clip:552},cnNames,cnCut,cnMean,cnMax,cnLast,cnColors);

// ---------- Connections per user ----------
const gF=geo('F',1973.75,1261.5,3772.75,1544);
tsChart('cF',gF,{tick:h12Tick,xm:6,ym:18,max:92,iv:20,showMax:false,showMin:false,fmt:v=>String(v),series:[
  ser('5.210 - azure',cuP1,'#F2CC0C',grad('#F2CC0C',0.38,0.03)),
  ser('7.91 - azure',cuP2,'#FADE2A',grad('#E0B400',0.32,0.03)),
  ser('.94 - ovh',cuP3,'#E0B400',grad('#FADE2A',0.3,0.03)),
  ser('.99 - ovh',cuP4,'#D9B81C',grad('#C4A000',0.3,0.03))
]});
legend('pF',{nameHdr:61,hdrY:397,lineY:412,lx1:16,lx2:1842,swX:22,swW:17,boxX:56,boxW:76,boxTop:418,boxBot:554,nameX:132,row0:429,rowH:31.7,cols:[1706,1764,1831],sbX:1847,sbTop:390,sbBot:546,thumbTop:398,thumbH:96,clip:552},cuNames,cuCut,cuMean,cuMax,cuLast,cuColors);
</script>
</body>
</html>
